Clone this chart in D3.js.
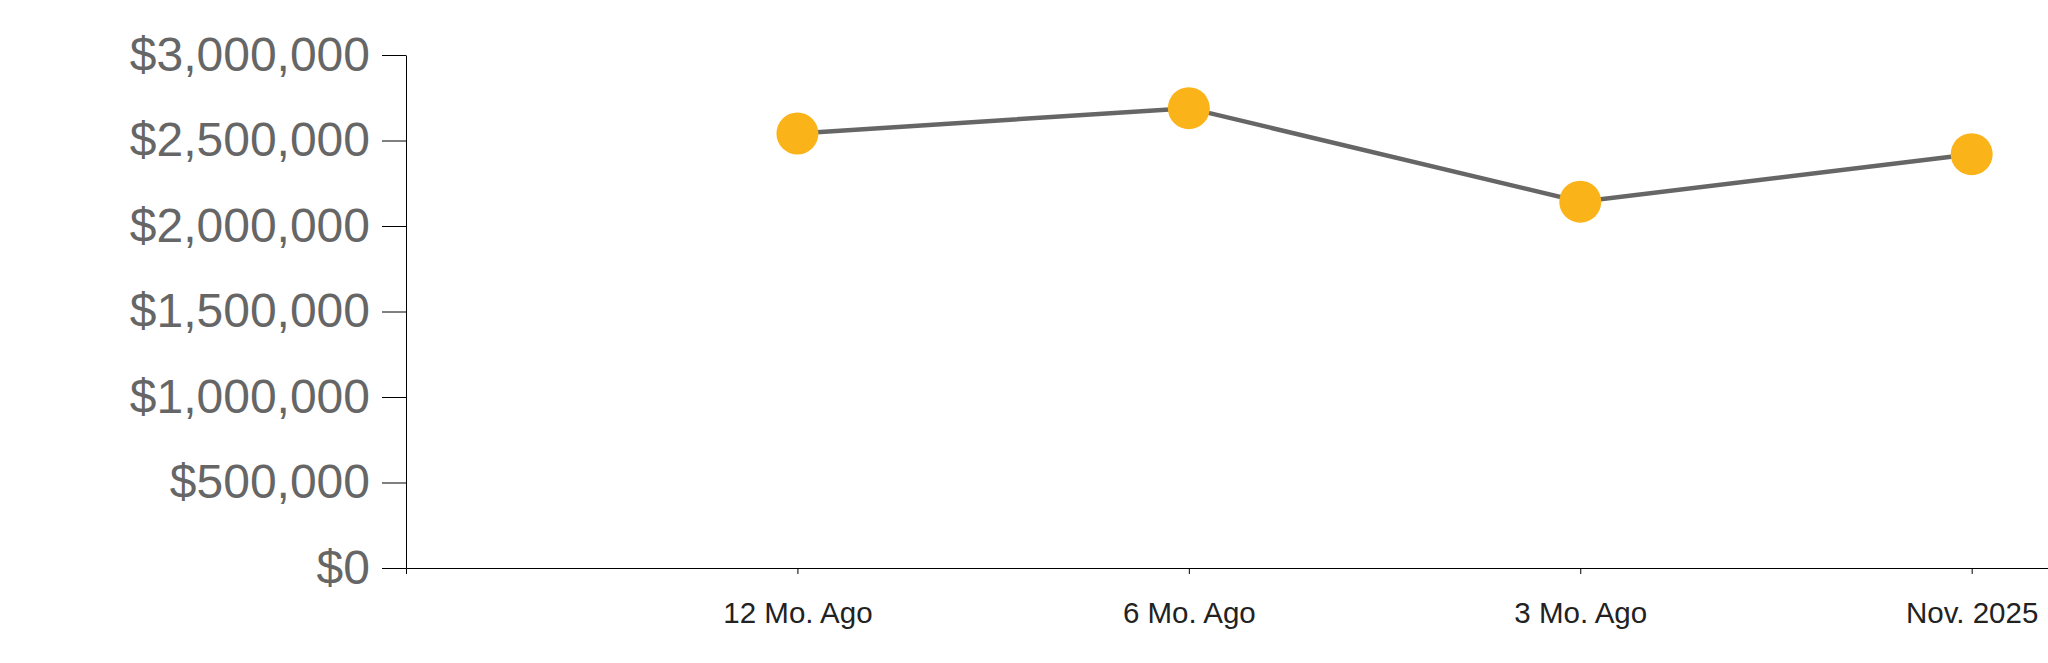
<!DOCTYPE html>
<html>
<head>
<meta charset="utf-8">
<script src="https://cdn.jsdelivr.net/npm/d3@7"></script>
<style>
  html, body { margin: 0; padding: 0; background: #fff; }
  svg { display: block; }
</style>
</head>
<body>
<svg id="chart" width="2048" height="663"></svg>
<script>
const categories = ["12 Mo. Ago", "6 Mo. Ago", "3 Mo. Ago", "Nov. 2025"];
const values = [2541000, 2689000, 2142000, 2420000];
const yTickValues = [0, 500000, 1000000, 1500000, 2000000, 2500000, 3000000];

(function () {
  const svg = d3.select("#chart");
  const W = 2048;
  const plotLeft = 406, plotTop = 55, plotBottom = 568;

  const x = d3.scaleLinear().domain([-1, 3.195]).range([plotLeft, W]);
  const y = d3.scaleLinear().domain([0, 3000000]).range([plotBottom, plotTop]);

  const fmt = d3.format("$,.0f");

  // Y axis
  const gy = svg.append("g")
    .attr("transform", `translate(${plotLeft},0)`)
    .call(d3.axisLeft(y).tickValues(yTickValues).tickFormat(fmt)
          .tickSize(24).tickSizeOuter(0).tickPadding(12));
  gy.selectAll("text")
    .attr("fill", "#666666")
    .style("font-family", "'Liberation Sans', Arial, sans-serif")
    .style("font-size", "48px");
  gy.selectAll("line, path").attr("stroke", "#000");

  // X axis
  const gx = svg.append("g")
    .attr("transform", `translate(0,${plotBottom})`)
    .call(d3.axisBottom(x).tickValues(d3.range(categories.length))
          .tickFormat(i => categories[i]).tickSize(6).tickSizeOuter(6).tickPadding(28));
  gx.selectAll("text")
    .attr("fill", "#222222")
    .style("font-family", "'Liberation Sans', Arial, sans-serif")
    .style("font-size", "29.5px");
  gx.selectAll("line, path").attr("stroke", "#000");

  // Line
  const line = d3.line().x((d, i) => x(i)).y(d => y(d));
  svg.append("path")
    .datum(values)
    .attr("d", line)
    .attr("fill", "none")
    .attr("stroke", "#666666")
    .attr("stroke-width", 4.5);

  // Points
  svg.selectAll("circle.pt")
    .data(values)
    .join("circle")
    .attr("class", "pt")
    .attr("cx", (d, i) => x(i))
    .attr("cy", d => y(d))
    .attr("r", 21)
    .attr("fill", "#fbb31a");
})();
</script>
</body>
</html>
